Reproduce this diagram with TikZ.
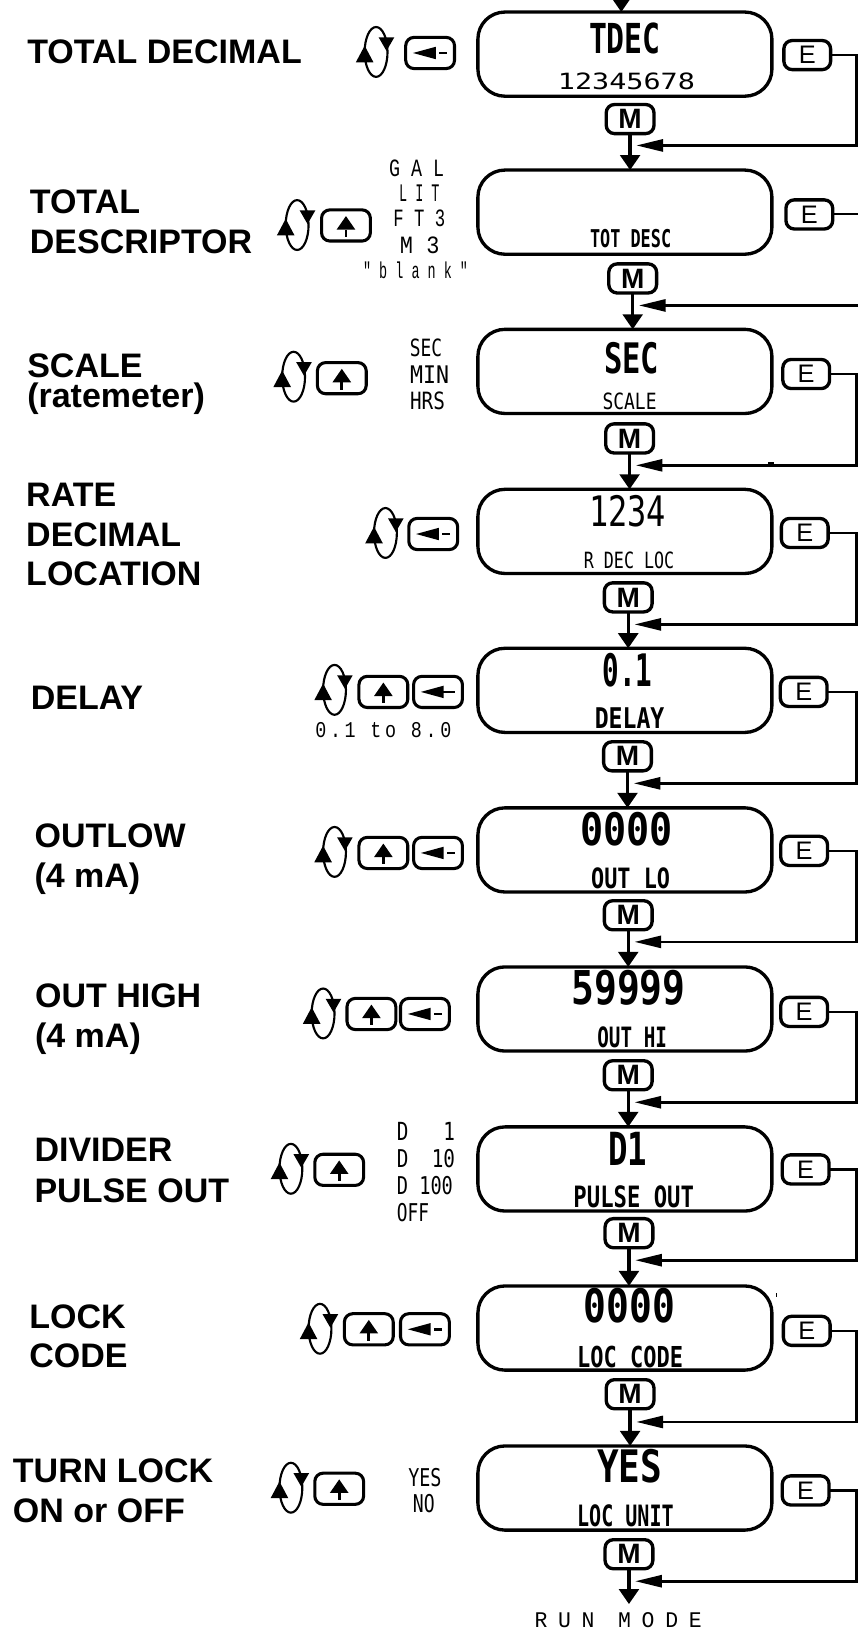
\documentclass[tikz,border=0pt]{standalone}
\usepackage{graphicx}
\usepackage{fontspec}
\setmainfont{Liberation Sans}
\setmonofont{Liberation Mono}
\newfontfamily\lcdfont{DejaVu Sans Mono}
\newfontfamily\spacedA[LetterSpace=50]{Liberation Mono}
\newfontfamily\spacedB[LetterSpace=20]{Liberation Mono}
\usetikzlibrary{arrows.meta,shapes.geometric}
\newdimen\ux \ux=0.779pt
\tikzset{
  display/.style={draw,line width=2.5pt,rounded corners=26\ux,minimum width=283\ux,minimum height=81\ux,inner sep=0pt,outer sep=0pt},
  keybox/.style={draw,line width=2.3pt,rounded corners=8\ux,minimum width=47\ux,minimum height=30\ux,inner sep=0pt,outer sep=0pt},
  mbox/.style={draw,line width=2.5pt,rounded corners=8\ux,minimum width=46\ux,minimum height=28\ux,inner sep=0pt,outer sep=0pt,font=\fontsize{21pt}{21pt}\selectfont\bfseries},
  ebox/.style={draw,line width=2.5pt,rounded corners=8\ux,minimum width=45\ux,minimum height=28\ux,inner sep=0pt,outer sep=0pt,font=\fontsize{19pt}{19pt}\selectfont},
  head/.style={anchor=base west,inner sep=0pt,font=\fontsize{25.5pt}{25.5pt}\selectfont\bfseries},
  lcdtxt/.style={inner sep=0pt,outer sep=0pt},
  flow/.style={line width=2.5pt,-{Triangle[length=11.3pt,width=14.8pt]}},
  back/.style={line width=2pt,-{Triangle[length=20pt,width=9pt]}},
  plainback/.style={line width=1.5pt},
  glyph/.style={fill=black,draw=none},
}
\newcommand\dispRow[7]{%
  \node[display] (disp#1) at (601.5,{#2+40.5}) {};
  \node[mbox] (m#1) at (#3,#4) {M};
  \node[ebox] (e#1) at (#5,#6) {E};
  \coordinate (tip#1) at (#3+6,#7);
  \coordinate (cr#1) at (824.5,#7);
}
\newcommand\lcdB[6]{\node[lcdtxt] (#1) at (#2,#3) {\resizebox{#4\ux}{#5\ux}{\lcdfont\bfseries #6}};}
\newcommand\lcdS[6]{\node[lcdtxt] (#1) at (#2,#3) {\resizebox{#4\ux}{#5\ux}{\lcdfont #6}};}
\newcommand\monoT[6]{\node[lcdtxt] (#1) at (#2,#3) {\resizebox{#4\ux}{#5\ux}{\ttfamily #6}};}
\newcommand\keyUp[3]{%
  \node[keybox] (#1) at (#2,#3) {};
  \begin{scope}[shift={(#2,#3)}]
    \fill[glyph] (0,-9) -- (9,4) -- (-9,4) -- cycle;
    \fill[glyph] (-1.3,4) rectangle (1.3,11);
  \end{scope}
}
\newcommand\keyLeft[4]{%
  \node[keybox] (#1) at (#2,#3) {};
  \begin{scope}[shift={(#2,#3)}]
    \fill[glyph] (-16.5,0) -- (5.5,-6) -- (5.5,6) -- cycle;
    \fill[glyph] (#4,-1.2) rectangle (16.5,1.2);
  \end{scope}
}
\newcommand\rotIcon[3]{%
  \node[draw,ellipse,line width=1.6pt,minimum width=22\ux,minimum height=48\ux,inner sep=0pt] (#1) at (#2,#3) {};
  \begin{scope}[shift={(#2,#3)}]
    \fill[glyph] (-11,-6) -- (-2.5,10) -- (-19.5,10) -- cycle;
    \fill[glyph] (10,-1) -- (2.5,-14) -- (17.5,-14) -- cycle;
  \end{scope}
}
\begin{document}
\begin{tikzpicture}[x=0.779pt,y=-0.779pt]
\useasboundingbox (0,0) rectangle (826,1568);
% left headings
\node[head] (h1) at (26,61) {TOTAL DECIMAL};
\node[head] (h2a) at (28.5,205.4) {TOTAL};
\node[head] (h2b) at (28.5,243.9) {DESCRIPTOR};
\node[head] (h3a) at (26,363) {SCALE};
\node[head] (h3b) at (26,392) {(ratemeter)};
\node[head] (h4a) at (25,487.8) {RATE};
\node[head] (h4b) at (25,526.3) {DECIMAL};
\node[head] (h4c) at (25,564) {LOCATION};
\node[head] (h5) at (29.5,682.8) {DELAY};
\node[head] (h6a) at (33,815.8) {OUTLOW};
\node[head] (h6b) at (33,854.3) {(4 mA)};
\node[head] (h7a) at (33.5,969.8) {OUT HIGH};
\node[head] (h7b) at (33.5,1008.3) {(4 mA)};
\node[head] (h8a) at (33,1118.4) {DIVIDER};
\node[head] (h8b) at (33,1157) {PULSE OUT};
\node[head] (h9a) at (28,1278.8) {LOCK};
\node[head] (h9b) at (28,1316.7) {CODE};
\node[head] (h10a) at (12.2,1427.4) {TURN LOCK};
\node[head] (h10b) at (12.2,1465) {ON or OFF};
% display rows
\dispRow{1}{11.6}{606.5}{114.6}{777}{53}{140}
\dispRow{2}{163.7}{609}{268}{779}{206.4}{294}
\dispRow{3}{317}{606}{422}{776}{360}{447.9}
\dispRow{4}{471}{604.7}{575}{774.6}{513}{601}
\dispRow{5}{624}{604}{728}{773.6}{666}{754}
\dispRow{6}{777.6}{604.7}{881}{774}{819}{906.6}
\dispRow{7}{930.7}{604.7}{1035}{774}{974}{1061}
\dispRow{8}{1084.7}{605.4}{1187}{775.5}{1125.6}{1213}
\dispRow{9}{1237.8}{606.5}{1342}{776.5}{1281}{1368.7}
\dispRow{10}{1391.8}{605.4}{1496}{775.5}{1434.6}{1522}
% display texts
\lcdB{d1a}{601.5}{37}{69}{29.5}{TDEC}
\lcdS{d1b}{603}{78}{132}{16}{12345678}
\lcdB{d2b}{607}{230}{78}{17.5}{TOT DESC}
\lcdB{d3a}{608}{345}{53}{30}{SEC}
\lcdS{d3b}{606}{386}{52}{16}{SCALE}
\lcdS{d4a}{604}{492}{74}{30}{1234}
\lcdS{d4b}{605.5}{539}{87}{16}{R DEC LOC}
\lcdB{d5a}{604}{645}{48}{32}{0.1}
\lcdB{d5b}{606}{691}{67}{20}{DELAY}
\lcdB{d6a}{603}{798}{89}{32}{0000}
\lcdB{d6b}{607}{845}{76}{20}{OUT LO}
\lcdB{d7a}{605}{951}{110}{33}{59999}
\lcdB{d7b}{608.5}{998}{67}{20}{OUT HI}
\lcdB{d8a}{604}{1105.5}{37.5}{32}{D1}
\lcdB{d8b}{610}{1151.5}{116}{21}{PULSE OUT}
\lcdB{d9a}{606}{1257}{88}{33}{0000}
\lcdB{d9b}{606.6}{1306}{102}{20.6}{LOC CODE}
\lcdB{d10a}{606}{1411}{62.6}{32}{YES}
\lcdB{d10b}{602}{1459.5}{93}{21}{LOC UNIT}
% icons and keys
\rotIcon{r1}{362}{50}\keyLeft{k1}{414}{51}{8.5}
\rotIcon{r2}{286}{216.6}\keyUp{k2}{333}{217}
\rotIcon{r3}{282.6}{362.6}\keyUp{k3}{329}{364}
\rotIcon{r4}{371}{513}\keyLeft{k4}{417}{514}{8.5}
\rotIcon{r5}{322}{664}\keyUp{k5u}{369}{666}\keyLeft{k5l}{421.6}{666}{5}
\rotIcon{r6}{322}{820}\keyUp{k6u}{369}{821}\keyLeft{k6l}{421.6}{821}{8.5}
\rotIcon{r7}{311}{975.5}\keyUp{k7u}{357.5}{976}\keyLeft{k7l}{409}{976}{8.5}
\rotIcon{r8}{280}{1125}\keyUp{k8}{326.5}{1126}
\rotIcon{r9}{308}{1279}\keyUp{k9u}{355}{1279.5}\keyLeft{k9l}{409}{1279.5}{8.5}
\rotIcon{r10}{280}{1432}\keyUp{k10}{326.5}{1433}
% option lists
\monoT{v2a}{401}{161.6}{53}{16}{G A L}
\monoT{v2b}{403.6}{185.5}{39}{16}{L I T}
\monoT{v2c}{403.6}{210}{50}{16}{F T 3}
\monoT{v2d}{404}{236}{38}{16}{M 3}
\monoT{v2e}{400}{260.6}{101}{16}{" b l a n k "}
\lcdS{v3a}{410}{335}{31}{17}{SEC}
\lcdS{v3b}{413.5}{361}{37.5}{17}{MIN}
\lcdS{v3c}{411.5}{386}{33.5}{17}{HRS}
\node[lcdtxt] (v5) at (369,703) {\resizebox{131\ux}{14.5\ux}{\spacedB 0.1 to 8.0}};
\lcdS{v8a}{410}{1089.5}{56}{17.5}{D~~~1}
\lcdS{v8b}{410}{1115}{56}{17.5}{D~~10}
\lcdS{v8c}{409}{1141}{54}{17.5}{D~100}
\lcdS{v8d}{397.5}{1167}{31}{17.5}{OFF}
\lcdS{v10a}{409}{1422}{32}{17.5}{YES}
\lcdS{v10b}{408}{1447}{21}{17.5}{NO}
\node[lcdtxt] (run) at (595,1559) {\resizebox{161\ux}{14.4\ux}{\spacedA RUN MODE}};
% connectors
\coordinate (start) at (598,-5);
\coordinate (startTip) at (598,11.6);
\coordinate (lastTip) at (605.4,1544);
\draw[flow] (start) -- (startTip);
\foreach \a/\b in {1/2,2/3,3/4,4/5,5/6,6/7,7/8,8/9,9/10}
  \draw[flow] (m\a.south) -- (m\a.south |- disp\b.north);
\draw[flow] (m10.south) -- (lastTip);
\foreach \r in {1,3,4,5,6,7,8,9,10}
  \draw[back] (e\r.east) -| (cr\r) -- (tip\r);
\coordinate (edgeA) at (826,206.4);
\coordinate (edgeB) at (826,294);
\draw[plainback] (e2.east) -- (edgeA);
\draw[back] (edgeB) -- (tip2);
% stray print marks
\fill (739,444.5) rectangle (745,447);
\fill (746.5,1245) rectangle (747.5,1248);
\end{tikzpicture}
\end{document}
